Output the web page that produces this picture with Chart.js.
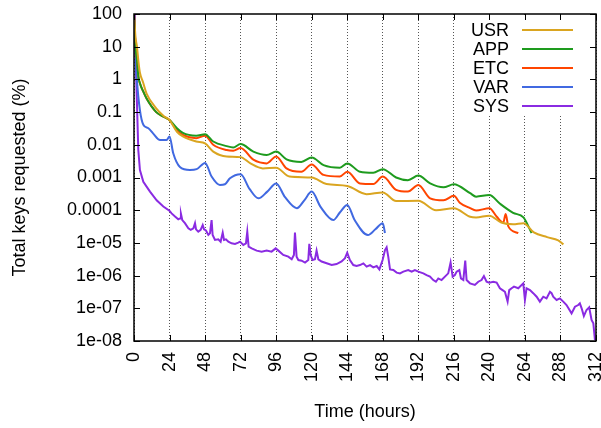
<!DOCTYPE html>
<html>
<head>
<meta charset="utf-8">
<script src="https://cdn.jsdelivr.net/npm/chart.js@4.4.1/dist/chart.umd.min.js"></script>
<style>
    html, body { margin: 0; padding: 0; background: #fff; }
    #wrap { width: 601px; height: 428px; }
</style>
</head>
<body>
<div id="wrap"><canvas id="grafico"></canvas></div>
<script>
// --- 1. DATOS ---

const xTicks = [0, 24, 48, 72, 96, 120, 144, 168, 192, 216, 240, 264, 288, 312];
const yTicks = [1e-8, 1e-7, 1e-6, 1e-5, 1e-4, 1e-3, 1e-2, 0.1, 1, 10, 100];
const yTickLabels = ['1e-08', '1e-07', '1e-06', '1e-05', '0.0001', '0.001', '0.01', '0.1', '1', '10', '100'];

const usrHours = [0, 1, 2, 3, 4, 6, 8.5, 15, 20, 24, 29, 33, 42, 48, 53.5, 62.6, 72, 78.6, 87, 96,
    105, 120, 130, 144, 157, 168, 177, 192, 204, 216, 227, 231, 240, 248, 256, 263, 270, 279, 286.5, 290];
const usrValues = [100, 20, 10, 3.5, 1.6, 0.85, 0.37, 0.13, 0.076, 0.057, 0.025, 0.018, 0.0126, 0.011, 0.0062, 0.0044, 0.0042, 0.0027, 0.0019, 0.002,
    0.00107, 0.001, 6.3e-4, 5.5e-4, 3.1e-4, 3.5e-4, 1.9e-4, 1.95e-4, 1e-4, 1.15e-4, 6.3e-5, 6e-5, 6.8e-5, 4.2e-5, 3.7e-5, 4e-5, 2.1e-5, 1.5e-5, 1.2e-5, 9e-6];

const appHours = [0, 1, 2, 3, 4, 6.3, 8.5, 15, 20, 24, 29, 33, 42, 48, 53.5, 62.6, 67, 72, 80.6, 89.6,
    96, 103, 113, 120, 128, 139, 144, 152.6, 161.6, 168, 177, 185, 192, 200, 209, 216, 227, 231, 240, 247, 256, 263, 268.5];
const appValues = [100, 10, 4, 1.2, 0.76, 0.42, 0.26, 0.1, 0.072, 0.057, 0.032, 0.023, 0.019, 0.021, 0.0126, 0.0091, 0.0083, 0.0105, 0.0062, 0.0049,
    0.0062, 0.0036, 0.003, 0.0041, 0.0024, 0.002, 0.0027, 0.0015, 0.0014, 0.0018, 0.001, 8.3e-4, 0.00115, 6.6e-4, 5e-4, 6.2e-4, 3.3e-4, 2.6e-4, 2.9e-4, 1.6e-4, 8.3e-5, 6e-5, 2e-5];

const etcHours = [0, 1, 2, 3, 4, 6.3, 8.5, 15, 20, 24, 29, 33, 42, 48, 53.5, 62.6, 67, 72, 80.6, 89.6,
    96, 103, 113, 120, 128, 139, 144, 152.6, 161.6, 168, 177, 185, 192, 200, 209, 216, 220, 227, 231, 240, 245, 249.4, 251, 252.8, 259.5];
const etcValues = [100, 10, 4, 1.2, 0.76, 0.42, 0.26, 0.1, 0.072, 0.057, 0.028, 0.02, 0.016, 0.019, 0.01, 0.0069, 0.0066, 0.008, 0.0035, 0.0027,
    0.0044, 0.0019, 0.0015, 0.0025, 0.0012, 0.00107, 0.0015, 6.6e-4, 6.3e-4, 0.00107, 4.2e-4, 3.7e-4, 5.9e-4, 2.3e-4, 2e-4, 2.75e-4, 1.7e-4, 1.15e-4, 9.8e-5, 1.15e-4, 6.3e-5, 4.2e-5, 7.6e-5, 3.2e-5, 2e-5];

const varHours = [0, 0.8, 1.8, 4, 6.3, 9.7, 13, 17.6, 22, 24, 26.5, 31, 37.8, 42.3, 48, 52.4, 58, 61.4, 64.8, 72,
    78, 84, 90, 96, 102, 110, 115, 120, 126, 134.6, 139, 144, 149, 158, 163, 168, 169.5];
const varValues = [100, 8, 1.2, 0.115, 0.041, 0.032, 0.022, 0.014, 0.014, 0.018, 0.0055, 0.0021, 0.0017, 0.0018, 0.0028, 0.00107, 5.9e-4, 6.2e-4, 9.5e-4, 0.00126,
    4.5e-4, 2.3e-4, 3.7e-4, 6.6e-4, 2.5e-4, 1.15e-4, 2e-4, 3.7e-4, 1.26e-4, 5e-5, 8.5e-5, 1.45e-4, 5e-5, 1.74e-5, 2.6e-5, 4e-5, 2e-5];

const sysHours = [
    0, 0.6, 1.2, 1.8, 2.9, 4, 6.3, 10.8, 15.3, 19.8,
    23.9, 25.4, 27.7, 29.9, 31.1, 31.7, 32.6, 34.4, 36.7, 38.3,
    40.1, 41.2, 41.9, 43.4, 45, 46.4, 47.3, 48.6, 50.2, 51.3,
    52.4, 53.1, 54.7, 56.9, 58.5, 59.9, 60.8, 62.1, 63.7, 65.9,
    68.2, 70.4, 71.6, 73.8, 75.6, 76.5, 77.4, 79.5, 82.8, 86.2,
    89.6, 92.9, 95.7, 97.5, 100.8, 104.2, 106.5, 108, 108.7, 109.8,
    111, 113.2, 115.5, 117.7, 118.4, 119.3, 120.6, 122.2, 123.3, 124.5,
    126.7, 130.1, 133.5, 136.8, 140.2, 142.5, 144, 145.8, 148.1, 150.3,
    152.6, 154.9, 157.1, 159.4, 161.6, 163.9, 165.7, 167.9, 169.5, 170.6,
    171.7, 172.9, 175.1, 177.4, 179.6, 181.9, 185.2, 187.5, 189.7, 192,
    195.4, 197.6, 199.9, 202.1, 203.9, 205.5, 207.7, 210, 212.2, 213.8,
    215.2, 216.7, 217.9, 219.7, 220.8, 222.4, 223.7, 224.6, 226.9, 230.2,
    232.5, 234.7, 236.3, 238.1, 239.9, 242.6, 244.9, 247.1, 248.9, 250.5,
    252.3, 253.4, 255, 256.6, 259.5, 262.9, 264, 265.1, 267.4, 269.6,
    271.9, 274.1, 276.4, 278.6, 280.9, 282, 283.1, 285.4, 287.6, 289.9,
    292.1, 295.5, 297.8, 300, 301.1, 302.3, 303.8, 305.6, 307.4, 309,
    310.2, 311.3];
const sysValues = [
    100, 30, 3, 0.37, 0.0069, 0.0017, 7.4e-4, 3.7e-4, 2e-4, 1.3e-4,
    9.7e-5, 8e-5, 6.4e-5, 5.3e-5, 5.6e-5, 7.7e-5, 5e-5, 4e-5, 2.8e-5, 2.5e-5,
    2.8e-5, 4e-5, 2.6e-5, 2.2e-5, 2.5e-5, 3.5e-5, 2.6e-5, 2.4e-5, 1.75e-5, 1.96e-5,
    5e-5, 1.75e-5, 1.23e-5, 1.29e-5, 1.09e-5, 2.06e-5, 1.23e-5, 1.29e-5, 1.09e-5, 9.7e-6,
    9.3e-6, 1.02e-5, 1.09e-5, 8.6e-6, 9.7e-6, 2.2e-5, 7.7e-6, 6.8e-6, 5.8e-6, 5.4e-6,
    5.8e-6, 5.4e-6, 6.8e-6, 5.8e-6, 4.3e-6, 3.8e-6, 3.15e-6, 4.3e-6, 2.06e-5, 3.8e-6,
    3e-6, 2.86e-6, 2.5e-6, 3e-6, 9.3e-6, 4.3e-6, 3e-6, 3.15e-6, 5.8e-6, 3.15e-6,
    2.7e-6, 2.38e-6, 2.1e-6, 2.26e-6, 2.7e-6, 3.4e-6, 5e-6, 3e-6, 2.1e-6, 1.97e-6,
    2.1e-6, 2.37e-6, 1.88e-6, 2.1e-6, 1.79e-6, 1.96e-6, 1.55e-6, 3e-6, 6.05e-6, 7.3e-6,
    3.8e-6, 1.55e-6, 1.48e-6, 1.23e-6, 1.17e-6, 1.32e-6, 1.48e-6, 1.32e-6, 1.48e-6, 1.32e-6,
    1.17e-6, 1.04e-6, 9.3e-7, 7.3e-7, 6.5e-7, 8.2e-7, 7.3e-7, 9.3e-7, 1.17e-6, 2.5e-6,
    9.3e-7, 1.04e-6, 1.32e-6, 1.48e-6, 8.2e-7, 7.3e-7, 2.86e-6, 7.3e-7, 5.8e-7, 5.2e-7,
    6.5e-7, 7.3e-7, 9.7e-7, 6.5e-7, 6.1e-7, 6.5e-7, 6.1e-7, 4.1e-7, 3.6e-7, 3.2e-7,
    1.6e-7, 3.6e-7, 4.1e-7, 4.6e-7, 4.1e-7, 5.8e-7, 1.8e-7, 4.1e-7, 3.6e-7, 2.9e-7,
    2.26e-7, 1.6e-7, 2.26e-7, 2e-7, 3.2e-7, 2.9e-7, 2.26e-7, 1.8e-7, 2e-7, 1.6e-7,
    1.26e-7, 7e-8, 1.12e-7, 1.26e-7, 1.42e-7, 1e-7, 5.8e-8, 8.9e-8, 1.07e-7, 4.4e-8,
    3.5e-8, 1.07e-8];

// --- 2. CONFIGURACIÓN ---

const FONT = 'Liberation Sans, Arial, Helvetica, sans-serif';
Chart.defaults.font.family = FONT;
Chart.defaults.font.size = 18;
Chart.defaults.color = '#000';

function toPoints(hours, values) {
    return hours.map((h, i) => ({ x: h, y: values[i] }));
}

function serie(label, hours, values, color, suave) {
    return {
        label: label,
        data: toPoints(hours, values),
        borderColor: color,
        backgroundColor: color,
        borderWidth: 2,
        pointRadius: 0,
        cubicInterpolationMode: suave ? 'monotone' : 'default',
        tension: 0
    };
}

// Marco, ticks interiores y leyenda estilo gnuplot
const marcoPlugin = {
    id: 'marco',
    afterDatasetsDraw(chart) {
        const { ctx, chartArea: a, scales: { x, y } } = chart;
        ctx.save();

        // Leyenda (caja blanca, texto a la izquierda de la línea)
        ctx.fillStyle = '#fff';
        ctx.fillRect(465, 17, 120, 97);
        ctx.font = '18px ' + FONT;
        ctx.textAlign = 'right';
        ctx.textBaseline = 'middle';
        chart.data.datasets.forEach((ds, i) => {
            const rowY = 30 + i * 19;
            ctx.fillStyle = '#000';
            ctx.fillText(ds.label, 509, rowY + 1);
            ctx.strokeStyle = ds.borderColor;
            ctx.lineWidth = 2;
            ctx.beginPath();
            ctx.moveTo(522, rowY);
            ctx.lineTo(573, rowY);
            ctx.stroke();
        });

        // Ticks interiores
        ctx.strokeStyle = '#000';
        ctx.lineWidth = 1;
        ctx.beginPath();
        yTicks.forEach(v => {
            const py = Math.round(y.getPixelForValue(v)) + 0.5;
            ctx.moveTo(a.left, py); ctx.lineTo(a.left + 6, py);
            ctx.moveTo(a.right, py); ctx.lineTo(a.right - 6, py);
        });
        xTicks.forEach(v => {
            const px = Math.round(x.getPixelForValue(v)) + 0.5;
            ctx.moveTo(px, a.bottom); ctx.lineTo(px, a.bottom - 6);
            ctx.moveTo(px, a.top); ctx.lineTo(px, a.top + 6);
        });
        ctx.stroke();

        // Borde
        ctx.lineWidth = 1.5;
        ctx.strokeRect(a.left, a.top, a.right - a.left, a.bottom - a.top);
        ctx.restore();
    }
};

const ctx = document.getElementById('grafico').getContext('2d');

new Chart(ctx, {
    type: 'line',
    data: {
        datasets: [
            serie('USR', usrHours, usrValues, '#daa520', true),
            serie('APP', appHours, appValues, '#1e9b1e', true),
            serie('ETC', etcHours, etcValues, '#ff4500', true),
            serie('VAR', varHours, varValues, '#4169e1', true),
            serie('SYS', sysHours, sysValues, '#8a2be2', false)
        ]
    },
    options: {
        responsive: true,
        maintainAspectRatio: false,
        animation: false,
        devicePixelRatio: 1,
        layout: { padding: { top: 14, right: 5, left: 0, bottom: 0 } },
        plugins: {
            legend: { display: false },
            tooltip: { enabled: false }
        },
        scales: {
            x: {
                type: 'linear',
                min: 0,
                max: 312,
                afterBuildTicks: scale => { scale.ticks = xTicks.map(v => ({ value: v })); },
                afterFit: scale => {
                    scale.height = 87;
                    scale.paddingLeft = 0;
                    scale.paddingRight = 0;
                },
                ticks: {
                    autoSkip: false,
                    minRotation: 90,
                    maxRotation: 90,
                    padding: 11,
                    color: '#000',
                    font: { size: 18 },
                    callback: v => String(v)
                },
                grid: {
                    drawTicks: false,
                    color: '#555',
                    lineWidth: 1
                },
                border: { display: false, dash: [1, 2] },
                title: {
                    display: true,
                    text: 'Time (hours)',
                    color: '#000',
                    font: { size: 18 },
                    padding: { top: 0, bottom: 5 }
                }
            },
            y: {
                type: 'logarithmic',
                min: 1e-8,
                max: 100,
                afterBuildTicks: scale => { scale.ticks = yTicks.map(v => ({ value: v })); },
                afterFit: scale => {
                    scale.width = 134;
                    scale.paddingTop = 0;
                    scale.paddingBottom = 0;
                },
                ticks: {
                    padding: 12,
                    color: '#000',
                    font: { size: 18 },
                    callback: (v, i) => yTickLabels[i]
                },
                grid: { drawOnChartArea: false, drawTicks: false },
                border: { display: false },
                title: {
                    display: true,
                    text: 'Total keys requested (%)',
                    color: '#000',
                    font: { size: 18 },
                    padding: { top: 9, bottom: 0 }
                }
            }
        }
    },
    plugins: [marcoPlugin]
});
</script>
</body>
</html>
